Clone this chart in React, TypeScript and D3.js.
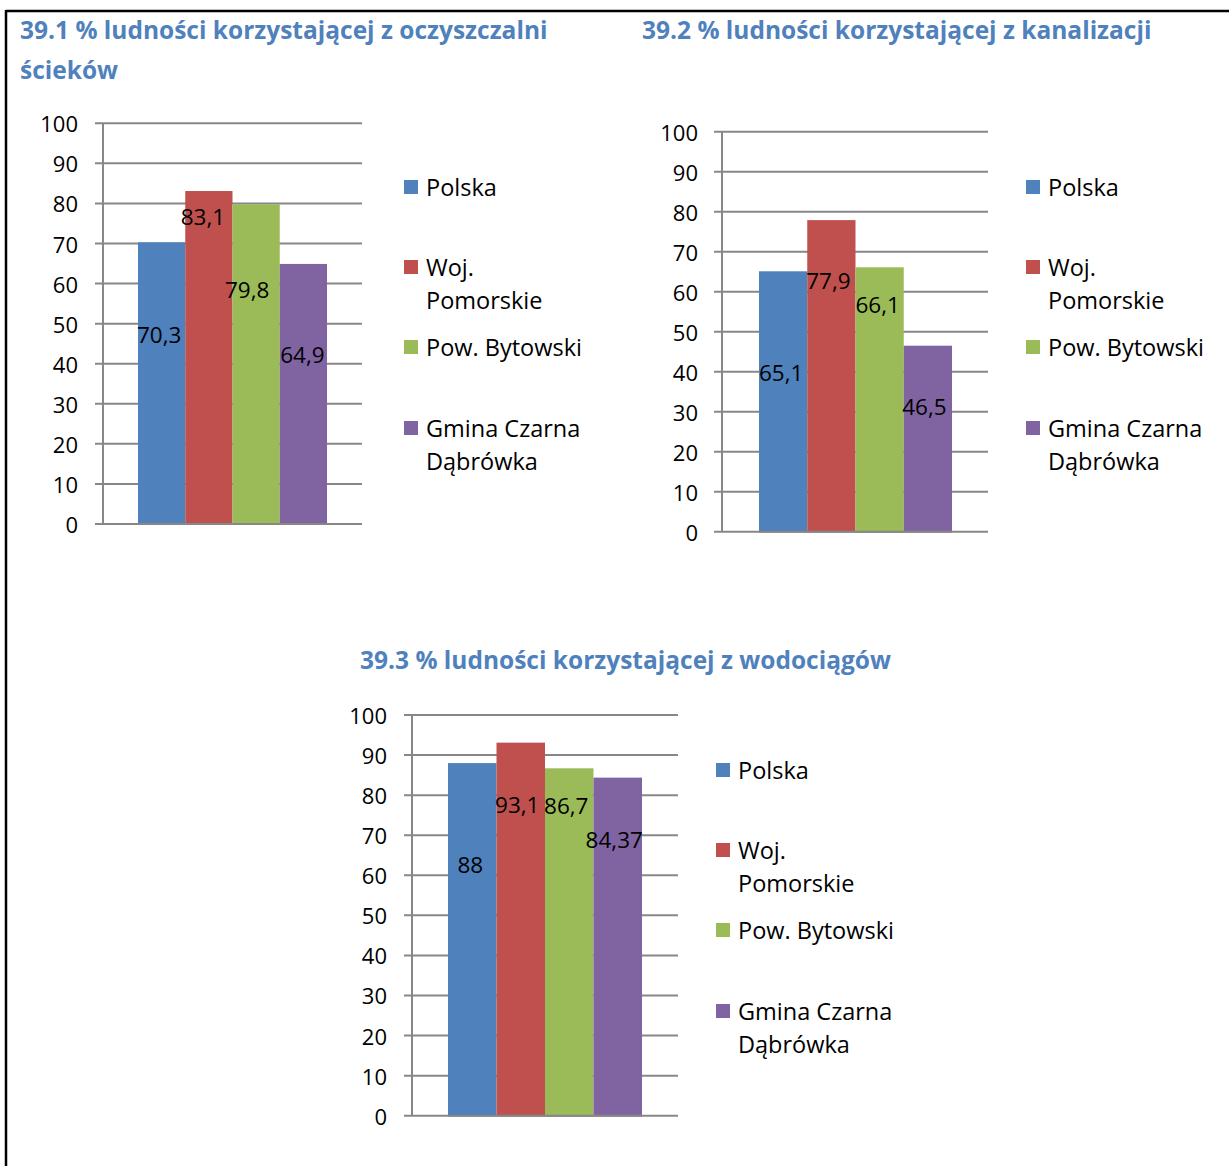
import React from "react";
import * as d3 from "d3";

const seriesNames = ["Polska", "Woj. Pomorskie", "Pow. Bytowski", "Gmina Czarna Dąbrówka"];
const legendLines = [["Polska"], ["Woj.", "Pomorskie"], ["Pow. Bytowski"], ["Gmina Czarna", "Dąbrówka"]];
const colors = ["#4F81BD", "#C0504D", "#9BBB59", "#8064A2"];
const yTicks = [0, 10, 20, 30, 40, 50, 60, 70, 80, 90, 100];

const titles1 = ["39.1 % ludności korzystającej z oczyszczalni", "ścieków"];
const titles2 = ["39.2 % ludności korzystającej z kanalizacji"];
const titles3 = ["39.3 % ludności korzystającej z wodociągów"];

const values1 = [70.3, 83.1, 79.8, 64.9];
const labels1 = ["70,3", "83,1", "79,8", "64,9"];
const values2 = [65.1, 77.9, 66.1, 46.5];
const labels2 = ["65,1", "77,9", "66,1", "46,5"];
const values3 = [88, 93.1, 86.7, 84.37];
const labels3 = ["88", "93,1", "86,7", "84,37"];

// label anchor heights in value units (labels were placed manually in the original)
const labelAt1 = [47.4, 76.7, 58.6, 42.4];
const labelAt2 = [39.9, 62.7, 56.9, 31.2];
const labelAt3 = [62.8, 77.6, 77.3, 69.0];

const FONT = "'Open Sans', Lato, sans-serif";

type Layout = {
  y0: number; y100: number; axisX: number; gridX1: number; gridX2: number;
  barX0: number; barX1: number; tickX: number; legendX: number; legendY: number;
  titleX: number; titleY: number; labelDx: number[];
};

function Chart({ values, labels, labelAt, titles, L }: {
  values: number[]; labels: string[]; labelAt: number[]; titles: string[]; L: Layout;
}) {
  const y = d3.scaleLinear().domain([0, 100]).range([L.y0, L.y100]);
  const x = d3.scaleBand<string>().domain(seriesNames).range([L.barX0, L.barX1]).padding(0);
  const legendOffsets = [0, 80, 160, 241];
  return (
    <g>
      {titles.map((t, i) => (
        <text key={"t" + i} x={L.titleX} y={L.titleY + i * 40} fill="#4F81BD" fontWeight="bold"
          fontSize={24.5} fontFamily={FONT}>{t}</text>
      ))}
      {yTicks.map((t) => (
        <g key={"g" + t}>
          <line x1={L.gridX1} x2={L.gridX2} y1={y(t)} y2={y(t)} stroke="#878787" strokeWidth={2} />
          <text x={L.tickX} y={y(t)} textAnchor="end" dominantBaseline="central" fontSize={22}
            fontFamily={FONT} fill="#000">{t}</text>
        </g>
      ))}
      <line x1={L.axisX} x2={L.axisX} y1={y(100)} y2={y(0)} stroke="#878787" strokeWidth={2} />
      {values.map((v, i) => (
        <rect key={"b" + i} x={x(seriesNames[i])} y={y(v)} width={x.bandwidth()} height={y(0) - y(v)}
          fill={colors[i]} />
      ))}
      <line x1={L.barX0} x2={L.barX1} y1={y(0)} y2={y(0)} stroke="#878787" strokeWidth={2} />
      {labels.map((lab, i) => (
        <text key={"l" + i} x={(x(seriesNames[i]) as number) + x.bandwidth() / 2 + L.labelDx[i]}
          y={y(labelAt[i])} textAnchor="middle" dominantBaseline="central" fontSize={22.5}
          fontFamily={FONT} fill="#000">{lab}</text>
      ))}
      {legendLines.map((lines, i) => (
        <g key={"lg" + i}>
          <rect x={L.legendX} y={L.legendY + legendOffsets[i] - 7} width={14} height={14} fill={colors[i]} />
          {lines.map((ln, j) => (
            <text key={j} x={L.legendX + 22} y={L.legendY + legendOffsets[i] + j * 33}
              dominantBaseline="central" fontSize={23.5} fontFamily={FONT} fill="#000">{ln}</text>
          ))}
        </g>
      ))}
    </g>
  );
}

const layout1: Layout = {
  y0: 524, y100: 123.3, axisX: 103, gridX1: 95, gridX2: 362, barX0: 138, barX1: 327,
  tickX: 78, legendX: 404, legendY: 187, titleX: 20, titleY: 39, labelDx: [-2.5, -6, -9, -1],
};
const layout2: Layout = {
  y0: 531.7, y100: 131.7, axisX: 722, gridX1: 714, gridX2: 988, barX0: 759, barX1: 952,
  tickX: 698, legendX: 1026, legendY: 187, titleX: 642, titleY: 39, labelDx: [-2, -3, -2, -3.5],
};
const layout3: Layout = {
  y0: 1115.7, y100: 715, axisX: 412, gridX1: 404, gridX2: 678, barX0: 448, barX1: 642,
  tickX: 387, legendX: 716, legendY: 770, titleX: 360, titleY: 669, labelDx: [-2, -3.5, -3, -3.5],
};

export default function App() {
  return (
    <svg width={1229} height={1166} style={{ position: "absolute", left: 0, top: 0, background: "#fff" }}>
      <rect x={0} y={0} width={1229} height={1166} fill="#fff" />
      <line x1={6} x2={1229} y1={11} y2={11} stroke="#000" strokeWidth={2.5} />
      <line x1={6} x2={6} y1={10} y2={1166} stroke="#000" strokeWidth={2.5} />
      <Chart values={values1} labels={labels1} labelAt={labelAt1} titles={titles1} L={layout1} />
      <Chart values={values2} labels={labels2} labelAt={labelAt2} titles={titles2} L={layout2} />
      <Chart values={values3} labels={labels3} labelAt={labelAt3} titles={titles3} L={layout3} />
    </svg>
  );
}
